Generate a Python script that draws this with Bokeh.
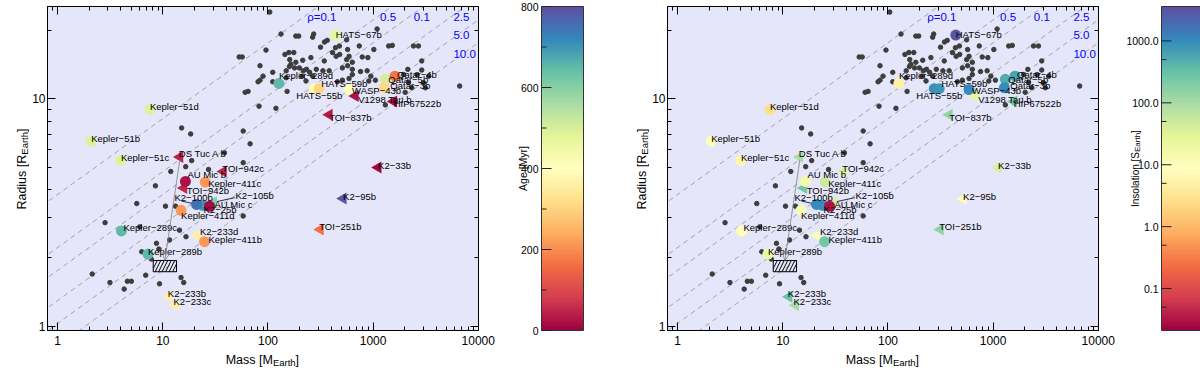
import numpy as np
from bokeh.plotting import figure
from bokeh.layouts import row, column
from bokeh.models import (ColumnDataSource, Range1d, FixedTicker, LogAxis,
                          PrintfTickFormatter, Arrow, OpenHead, LinearColorMapper)
from bokeh.transform import linear_cmap, log_cmap
from bokeh.embed import file_html
from bokeh.resources import INLINE
from bokeh.core.properties import value

FONT = "Liberation Sans"

# ---------------- data ----------------
planet_names = ["Kepler-51b", "Kepler-51c", "Kepler-51d", "DS Tuc A b", "TOI-942c",
                "Kepler-411c", "TOI-942b", "AU Mic b", "K2-25b", "K2-100b", "K2-105b", "AU Mic c",
                "Kepler-411d", "K2-233d", "Kepler-411b", "Kepler-289c", "Kepler-289b",
                "Kepler-289d", "K2-233b", "K2-233c", "HATS-67b", "HATS-55b", "HATS-59b",
                "WASP-43b", "V1298 Tau b", "Qatar-5b", "Qatar-3b", "Qatar-4b", "HIP67522b",
                "TOI-837b", "K2-33b", "K2-95b", "TOI-251b"]
planet_mass = [2.08, 3.99, 7.54, 14.5, 37.6,
               25.3, 15.8, 16.4, 23.9, 20.9, 30.3, 27.8,
               14.9, 21.1, 24.9, 4.04, 7.22,
               127, 11.4, 13.2, 441, 276, 307,
               590, 676, 1306, 1279, 1614, 1567,
               382, 1114, 518, 314]
planet_radius = [6.53, 5.37, 9.0, 5.56, 4.8,
                 4.31, 4.06, 4.34, 3.41, 3.44, 3.52, 3.38,
                 3.24, 2.52, 2.36, 2.63, 2.08,
                 11.7, 1.35, 1.24, 19.1, 11.1, 11.1,
                 11.0, 10.3, 12.2, 11.2, 12.6, 9.74,
                 8.52, 5.0, 3.65, 2.67]
planet_age_myr = [490, 490, 490, 45, 50,
                  210, 50, 22, 700, 750, 600, 15,
                  210, 360, 210, 650, 650,
                  650, 360, 360, 470, 380, 300,
                  400, 23, 500, 310, 170, 17,
                  35, 10, 790, 160]
planet_insolation = [10, 6, 2.6, 100, 37,
                     52, 250, 16, 900, 1000, 40, 0.03,
                     12, 10, 250, 8, 20,
                     5, 300, 100, 3000, 900, 800,
                     1000, 25, 500, 1000, 600, 250,
                     150, 40, 8, 150]
planet_mass_upper_limit = [False, False, False, True, True,
                           False, True, False, False, False, True, False,
                           False, True, False, False, False,
                           False, True, True, False, False, False,
                           False, True, False, False, False, True,
                           True, True, True, True]

field_mass = [104, 133, 95.7, 53.2, 56.9, 145, 158, 161, 165, 84,
              89.7, 84, 80.5, 60.7, 64.7, 82.2, 119, 15.1, 18.4, 58.1,
              67.6, 38.5, 16.5, 18.8, 11.9, 58.1, 27.2, 8.5, 5.65, 10.6,
              13.2, 58.1, 2.82, 6.03, 14.4, 16.6, 8.7, 11.6, 6.3, 7.76,
              9.17, 2.13, 3.14, 4.6, 5.02, 4.29, 6.87, 9.3, 14.9, 15.8,
              184, 272, 266, 1091, 345, 316, 438, 176, 184, 214,
              256, 343, 411, 481, 590, 560, 634, 788, 891, 1016,
              1406, 160, 179, 199, 217, 149, 111, 230, 211, 266,
              382, 510, 634, 634, 759, 877, 1051, 910, 590, 510,
              457, 2421, 2698, 2138, 2899, 2899, 2333, 2170, 3006, 2017,
              1950, 6653, 1306, 111, 149, 560, 232, 249, 288, 333,
              445, 478, 572, 738, 572, 951, 1522, 2618, 3375, 152,
              196, 366, 3140]
field_radius = [24.1, 19.3, 16.4, 15.3, 15.3, 15.7, 16.0, 14.9, 14.2, 14.0,
                12.6, 12.1, 11.9, 10.7, 10.8, 9.3, 9.1, 7.46, 7.02, 7.23,
                6.35, 5.80, 5.04, 5.36, 4.80, 5.25, 4.90, 4.15, 3.47, 3.38,
                3.38, 3.06, 2.86, 2.74, 2.65, 2.48, 2.32, 2.40, 2.13, 1.98,
                2.19, 1.70, 1.56, 1.58, 1.58, 1.46, 1.68, 1.54, 1.64, 1.56,
                18.9, 19.3, 18.7, 20.3, 17.8, 16.9, 16.8, 16.0, 14.5, 14.8,
                15.2, 14.7, 16.0, 15.7, 15.4, 14.9, 14.5, 15.3, 15.2, 16.5,
                17.1, 13.9, 13.7, 13.7, 13.3, 12.4, 13.1, 12.0, 12.6, 12.6,
                13.3, 13.7, 13.5, 12.8, 13.2, 13.3, 12.1, 12.0, 12.3, 12.1,
                11.9, 17.1, 17.1, 13.5, 13.4, 14.7, 11.2, 11.8, 11.8, 10.7,
                12.8, 11.4, 9.42, 11.9, 13.3, 18.2, 13.5, 13.1, 13.5, 13.3,
                15.4, 17.1, 16.5, 17.1, 14.0, 12.6, 17.2, 12.8, 12.6, 10.8,
                18.9, 18.1, 11.2]

density_values = [0.1, 0.5, 1.0, 2.5, 5.0, 10.0]          # g cm^-3
density_labels = ["ρ=0.1", "0.5", "0.1", "2.5", "5.0", "10.0"]
EARTH_DENSITY = 5.51

box_mass = [8.1, 13.5]
box_radius = [1.74, 1.95]

mass_ticks = [1, 10, 100, 1000, 10000]
radius_ticks = [1, 10]
age_ticks = [0, 200, 400, 600, 800]
age_minor_ticks = [100, 300, 500, 700]
age_tick_labels = ["0", "200", "400", "600", "800"]
insolation_ticks = [0.1, 1.0, 10.0, 100.0, 1000.0]
insolation_minor_ticks = [0.05, 0.5, 5, 50, 500]
insolation_tick_labels = ["0.1", "1.0", "10.0", "100.0", "1000.0"]

# ---------------- style / layout ----------------
FRAME_W = 431
FRAME_H = 324
TOP, BOTTOM = 6, 20
LEFT, RIGHT = 14, 18
YT_W = 29
XT_H = 17
FULL_H = TOP + FRAME_H + BOTTOM + XT_H
XMIN, XMAX = 0.8, 10050
YMIN, YMAX = 0.96, 25.5
AGE_RANGE = (0, 800)
INSOL_RANGE = (0.021, 3600)
X_DEC = FRAME_W / np.log10(XMAX / XMIN)
Y_DEC = FRAME_H / np.log10(YMAX / YMIN)

SPECTRAL = ['#9e0142', '#d53e4f', '#f46d43', '#fdae61', '#fee08b', '#ffffbf',
            '#e6f598', '#abdda4', '#66c2a5', '#3288bd', '#5e4fa2']


def interp_palette(colors, n):
    rgb = np.array([[int(c[i:i + 2], 16) for i in (1, 3, 5)] for c in colors], float)
    out = []
    for v in np.linspace(0, len(colors) - 1, n):
        i = min(int(v), len(colors) - 2)
        f = v - i
        c = rgb[i] * (1 - f) + rgb[i + 1] * f
        out.append('#%02x%02x%02x' % tuple(int(round(x)) for x in c))
    return out


PAL = interp_palette(SPECTRAL, 256)


def nudge(m, r, dx, dy):
    """shift a data point by screen pixels (dy positive = up)"""
    return m * 10 ** (dx / X_DEC), r * 10 ** (dy / Y_DEC)


LABEL_OFFSETS = {  # (dx, dy) pixels, dy positive = down
    "Kepler-289d": (0, -8), "HATS-67b": (0, -1), "HATS-55b": (-18, 7),
    "HATS-59b": (2, -5), "WASP-43b": (3, 1), "V1298 Tau b": (3, 3),
    "Qatar-4b": (2, -2), "Qatar-5b": (3, 0), "Qatar-3b": (6, -2),
    "HIP67522b": (0, 2), "TOI-837b": (0, 3), "K2-33b": (0, -2), "K2-95b": (0, -2),
    "AU Mic b": (2, -7), "Kepler-411c": (3, 1), "TOI-942b": (3, 2),
    "K2-100b": (-22, -7), "K2-105b": (22, -7), "AU Mic c": (5, -2),
    "K2-25b": (1, 4), "Kepler-411d": (0, 5), "Kepler-289c": (2, -3),
    "K2-233d": (3, -4), "Kepler-411b": (4, -2), "K2-233b": (-1, -3),
    "K2-233c": (-2, -4), "TOI-251b": (-1, -3), "DS Tuc A b": (-1, -3),
    "TOI-942c": (-1, -3),
}
RHO_LABEL_POS = [(236, 22.9), (1164, 22.9), (2440, 22.9), (5800, 22.9),
                 (5800, 19.1), (5800, 15.8)]


def style_axis(ax, show_labels):
    ax.axis_line_color = "black"
    ax.major_tick_in = 8
    ax.major_tick_out = 0
    ax.minor_tick_in = 4
    ax.minor_tick_out = 0
    ax.major_tick_line_color = "black"
    ax.minor_tick_line_color = "black"
    ax.major_label_text_font = FONT
    ax.major_label_text_font_size = "12px"
    ax.major_label_text_color = "black"
    if not show_labels:
        ax.major_label_text_color = None
        ax.major_label_text_font_size = "1px"
        ax.major_label_standoff = 0


def blank_fig(**kw):
    f = figure(toolbar_location=None, output_backend="svg",
               x_axis_location=None, y_axis_location=None, **kw)
    f.grid.visible = False
    f.outline_line_color = None
    f.background_fill_color = "white"
    f.border_fill_color = "white"
    return f


def add_h_parts(f, parts, x_anchor, y_anchor):
    """horizontal title made of parts: (text, size, along_px, down_px)"""
    for text, size, along, across in parts:
        f.text(x=[x_anchor], y=[y_anchor], text=[text], x_offset=along, y_offset=across,
               text_font=value(FONT), text_font_size=size,
               text_color="black", text_align="left", text_baseline="alphabetic")


def add_v_parts(f, parts, x_base, log_center, px_per_decade):
    """vertical (rotated) title on a log y scale: (text, size, up_px, right_px)"""
    for text, size, along, across in parts:
        y = 10 ** (log_center + along / px_per_decade)
        f.text(x=[x_base + across], y=[y], text=[text], angle=np.pi / 2,
               text_font=value(FONT), text_font_size=size,
               text_color="black", text_align="left", text_baseline="alphabetic")


def make_panel(color_spec):
    p = figure(frame_width=FRAME_W, frame_height=FRAME_H,
               x_axis_type="log", y_axis_type="log",
               x_range=Range1d(XMIN, XMAX), y_range=Range1d(YMIN, YMAX),
               toolbar_location=None, output_backend="svg",
               min_border_left=LEFT, min_border_right=RIGHT,
               min_border_top=TOP, min_border_bottom=BOTTOM)
    p.background_fill_color = "#e6e6fa"
    p.border_fill_color = "white"
    p.outline_line_color = "black"
    p.grid.visible = False
    p.add_layout(LogAxis(), "above")
    p.add_layout(LogAxis(), "right")

    x_minor = [0.9] + [k * 10 ** d for d in range(0, 4) for k in range(2, 10)]
    y_minor = list(range(2, 10)) + [20]
    p.xaxis.ticker = FixedTicker(ticks=mass_ticks, minor_ticks=x_minor)
    p.yaxis.ticker = FixedTicker(ticks=radius_ticks, minor_ticks=y_minor)
    p.xaxis.formatter = PrintfTickFormatter(format="%d")
    p.yaxis.formatter = PrintfTickFormatter(format="%d")
    style_axis(p.below[0], True)
    style_axis(p.left[0], True)
    style_axis(p.above[0], False)
    style_axis(p.right[0], False)
    p.below[0].major_label_standoff = 5
    p.left[0].major_label_standoff = 2

    # iso-density curves
    mgrid = np.logspace(-0.5, 4.5, 60)
    for rho in density_values:
        p.line(mgrid, (mgrid * EARTH_DENSITY / rho) ** (1 / 3),
               line_color="#8f8f8f", line_width=0.8, line_dash="5 4")
    p.text(x=[q[0] for q in RHO_LABEL_POS], y=[q[1] for q in RHO_LABEL_POS],
           text=density_labels, text_color="#0000ff", text_font=value(FONT),
           text_font_size="11.5px", text_align="left", text_baseline="middle")

    # field planets
    p.scatter(field_mass, field_radius, size=4.5, color="#3d3d3d")

    # predicted region + arrow
    p.quad(left=[box_mass[0]], right=[box_mass[1]], bottom=[box_radius[0]],
           top=[box_radius[1]], fill_color=None, line_color="black", line_width=1,
           hatch_pattern="/", hatch_color="black", hatch_scale=7, hatch_weight=1)
    i_ds = planet_names.index("DS Tuc A b")
    xs, ys = nudge(planet_mass[i_ds], planet_radius[i_ds], 0, -3)
    p.add_layout(Arrow(end=OpenHead(size=8, line_color="#808080", line_width=0.8),
                       x_start=xs, y_start=ys,
                       x_end=float(np.sqrt(box_mass[0] * box_mass[1])), y_end=box_radius[1],
                       line_color="#808080", line_width=0.8))

    # leader lines
    x0s, y0s, x1s, y1s = [], [], [], []
    for nm, a, b in (("K2-100b", (-15, 3.3), (-4, 1)), ("K2-105b", (21.5, 4.5), (1, 0))):
        i = planet_names.index(nm)
        x0, y0 = nudge(planet_mass[i], planet_radius[i], *a)
        x1, y1 = nudge(planet_mass[i], planet_radius[i], *b)
        x0s.append(x0); y0s.append(y0); x1s.append(x1); y1s.append(y1)
    p.segment(x0s, y0s, x1s, y1s, line_color="black", line_width=0.8)

    # young planets
    markers = ["triangle" if u else "circle" for u in planet_mass_upper_limit]
    angles = [np.pi / 2 if u else 0.0 for u in planet_mass_upper_limit]
    sizes = [12 if u else 11 for u in planet_mass_upper_limit]
    src = ColumnDataSource(dict(m=planet_mass, r=planet_radius, age=planet_age_myr,
                                insol=planet_insolation, marker=markers,
                                angle=angles, size=sizes))
    p.scatter("m", "r", source=src, marker="marker", angle="angle", size="size",
              fill_color=color_spec, line_color=None)

    dx = [LABEL_OFFSETS.get(n, (0, -3))[0] for n in planet_names]
    dy = [LABEL_OFFSETS.get(n, (0, -3))[1] for n in planet_names]
    lab = ColumnDataSource(dict(m=planet_mass, r=planet_radius,
                                text=[n.replace("-", "\u2212") for n in planet_names],
                                dx=dx, dy=dy))
    p.text("m", "r", text="text", source=lab, x_offset="dx", y_offset="dy",
           text_font=value(FONT), text_font_size="9.5px", text_color="black",
           text_align="left", text_baseline="middle")

    # x-axis title (below)
    xt = blank_fig(frame_width=FRAME_W, frame_height=XT_H, x_axis_type="log",
                   x_range=p.x_range, y_range=Range1d(0, XT_H),
                   min_border_left=LEFT, min_border_right=RIGHT,
                   min_border_top=0, min_border_bottom=0)
    add_h_parts(xt, [("Mass [M", "12.5px", -37.3, 0),
                     ("Earth", "9.5px", 9.9, 2.5),
                     ("]", "12.5px", 32.6, 0)],
                float(np.sqrt(XMIN * XMAX)), 7.5)

    # y-axis title (left)
    yt = blank_fig(frame_width=YT_W, frame_height=FRAME_H, y_axis_type="log",
                   x_range=Range1d(0, YT_W), y_range=p.y_range,
                   min_border_left=0, min_border_right=0,
                   min_border_top=TOP, min_border_bottom=BOTTOM)
    add_v_parts(yt, [("Radius [R", "12.5px", -41.1, 0),
                     ("Earth", "9.5px", 13.8, 2.5),
                     ("]", "12.5px", 36.5, 0)],
                21.5, float(np.log10(np.sqrt(YMIN * YMAX))), Y_DEC)
    return row(yt, column(p, xt))


def cb_range(low, high, log):
    """extend the bar range so the bar sits exactly beside the main frames"""
    if log:
        l0, l1 = np.log10(low), np.log10(high)
        ppu = FRAME_H / (l1 - l0)
        return 10 ** (l0 - (BOTTOM + XT_H) / ppu), 10 ** (l1 + TOP / ppu), ppu
    ppu = FRAME_H / (high - low)
    return low - (BOTTOM + XT_H) / ppu, high + TOP / ppu, ppu


def make_colorbar(width, x0, bar_w, low, high, log, ticks, minor, tick_labels):
    r0, r1, _ = cb_range(low, high, log)
    cb = blank_fig(frame_width=width, frame_height=FULL_H,
                   y_axis_type="log" if log else "linear",
                   x_range=Range1d(0, width), y_range=Range1d(r0, r1),
                   min_border_left=0, min_border_right=0,
                   min_border_top=0, min_border_bottom=0)
    grad = np.arange(256, dtype=float).reshape(256, 1)
    cb.image(image=[grad], x=x0, y=low, dw=bar_w, dh=high - low,
             color_mapper=LinearColorMapper(palette=PAL, low=0, high=255))
    cb.quad(left=[x0], right=[x0 + bar_w], bottom=[low], top=[high],
            fill_color=None, line_color="#333333", line_width=1)
    cb.segment(x0=[x0] * len(ticks), y0=ticks, x1=[x0 + 10] * len(ticks), y1=ticks,
               line_color="#222222", line_width=1)
    cb.segment(x0=[x0] * len(minor), y0=minor, x1=[x0 + 5] * len(minor), y1=minor,
               line_color="#222222", line_width=1)
    cb.text(x=[x0 - 3] * len(ticks), y=ticks, text=tick_labels,
            text_font=value(FONT), text_font_size="10.5px", text_color="black",
            text_align="right", text_baseline="middle")
    return cb


g1 = make_panel(linear_cmap("age", PAL, AGE_RANGE[0], AGE_RANGE[1]))
cb1 = make_colorbar(124, 45, 42, AGE_RANGE[0], AGE_RANGE[1], False, age_ticks,
                    age_minor_ticks, age_tick_labels)
cb1.text(x=[26], y=[sum(AGE_RANGE) / 2], text=["Age [Myr]"], angle=np.pi / 2,
         text_font=value(FONT), text_font_size="10.5px", text_color="black",
         text_align="center", text_baseline="alphabetic")

g2 = make_panel(log_cmap("insol", PAL, INSOL_RANGE[0], INSOL_RANGE[1]))
cb2 = make_colorbar(90, 45, 43, INSOL_RANGE[0], INSOL_RANGE[1], True, insolation_ticks,
                    insolation_minor_ticks, insolation_tick_labels)
_, _, ppd = cb_range(INSOL_RANGE[0], INSOL_RANGE[1], True)
add_v_parts(cb2, [("Insolation [S", "10px", -38.5, 0),
                  ("Earth", "8px", 16.5, 2),
                  ("]", "10px", 35.6, 0)],
            19, float(np.log10(np.sqrt(INSOL_RANGE[0] * INSOL_RANGE[1]))), ppd)

layout = row(g1, cb1, g2, cb2)
open("out.html", "w").write(file_html(layout, INLINE))
